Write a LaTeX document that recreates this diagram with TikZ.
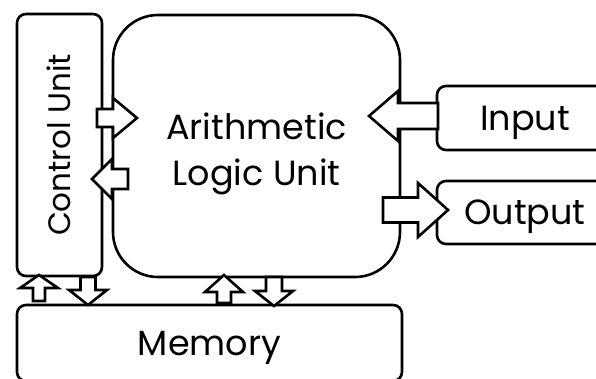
\documentclass[tikz,border=0pt]{standalone}
\usepackage{fontspec}
\setmainfont{Poppins}

\begin{document}
\begin{tikzpicture}[x=1pt,y=-1pt,
    unit/.style={draw,line width=2.6pt,rounded corners=9pt,inner sep=0pt,
      font=\fontsize{35}{46}\selectfont,align=center,text height=24.5pt,text depth=0pt},
    fat/.style={draw,line width=2.6pt,fill=white,line join=miter}]
    \clip (0,0) rectangle (596,378);
    % the five units
    \node[unit,rotate=90,minimum width=262pt,minimum height=85pt,
      font=\fontsize{31}{40}\selectfont,text height=21.6pt] (cu) at (59.5,145) {Control Unit};
    \node[unit,rounded corners=45pt,minimum width=287pt,minimum height=262pt,
      text height=79.5pt] (alu) at (256.5,146) {Arithmetic\\Logic Unit};
    \node[unit,minimum width=176pt,minimum height=64pt] (in) at (525,118) {Input};
    \node[unit,minimum width=176pt,minimum height=63pt] (out) at (525,212.5) {Output};
    \node[unit,minimum width=385pt,minimum height=76pt] (mem) at (209.5,343) {Memory};
    % fat arrows: tip x/tip y/angle/length/shaft/head/head length
    \foreach \tx/\ty/\ang/\len/\sh/\hh/\hl in {137/118/0/40/9/20/24, 92/179/180/36/10/20/20,
        369/116/180/69/13/25/29, 448/210/0/65/12.5/27/30,
        39/275/90/26/6/19/13, 88/305/-90/28/7.5/19/15,
        224/275/90/28/7/19/17, 274/306/-90/29/8/19/15}{
      \draw[fat,shift={(\tx,\ty)},rotate=\ang] (0,0) -- (-\hl,\hh) -- (-\hl,\sh) -- (-\len,\sh)
        -- (-\len,-\sh) -- (-\hl,-\sh) -- (-\hl,-\hh) -- cycle;
    }
\end{tikzpicture}
\end{document}
